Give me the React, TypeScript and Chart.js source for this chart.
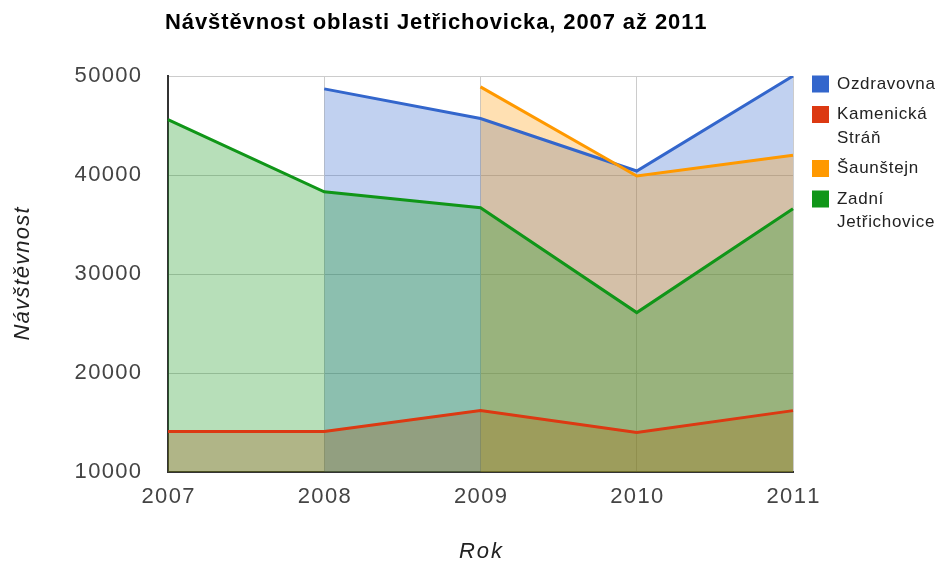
import React, { useEffect, useRef } from 'react';
import { Chart, registerables } from 'chart.js';

Chart.register(...registerables);

const years = ['2007', '2008', '2009', '2010', '2011'];
const ozdravovna = [null, 48700, 45700, 40400, 50000];
const kamenickaStran = [14100, 14100, 16200, 14000, 16200];
const saunstejn = [null, null, 48900, 39900, 42000];
const zadniJetrichovice = [45600, 38300, 36700, 26100, 36600];
const seriesNames = ['Ozdravovna', 'Kamenická Stráň', 'Šaunštejn', 'Zadní Jetřichovice'];
const legendLines = [['Ozdravovna'], ['Kamenická', 'Stráň'], ['Šaunštejn'], ['Zadní', 'Jetřichovice']];
const seriesColors = ['#3366cc', '#dc3912', '#ff9900', '#109618'];
const seriesFills = ['rgba(51,102,204,0.3)', 'rgba(220,57,18,0.3)', 'rgba(255,153,0,0.3)', 'rgba(16,150,24,0.3)'];
const yTicks = [10000, 20000, 30000, 40000, 50000];
const chartTitle = 'Návštěvnost oblasti Jetřichovicka, 2007 až 2011';
const xTitle = 'Rok';
const yTitle = 'Návštěvnost';

const FONT = '"Liberation Sans", Arial, sans-serif';

function drawSpaced(ctx: CanvasRenderingContext2D, text: string, x: number, y: number, align: string, spacing: number) {
  const chars = Array.from(text);
  const widths = chars.map((c) => ctx.measureText(c).width);
  const total = widths.reduce((a, b) => a + b, 0) + spacing * (chars.length - 1);
  let start = align === 'center' ? x - total / 2 : align === 'right' ? x - total : x;
  ctx.textAlign = 'left';
  chars.forEach((c, i) => {
    ctx.fillText(c, start, y);
    start += widths[i] + spacing;
  });
}

const textPlugin = {
  id: 'textPlugin',
  afterDraw(chart: any) {
    const ctx: CanvasRenderingContext2D = chart.ctx;
    const area = chart.chartArea;
    const xs = chart.scales.x;
    const ys = chart.scales.y;
    ctx.save();

    // title
    ctx.fillStyle = '#000';
    ctx.font = `bold 22px ${FONT}`;
    ctx.textBaseline = 'alphabetic';
    drawSpaced(ctx, chartTitle, area.left - 3, 29, 'left', 0.9);

    // y ticks
    ctx.fillStyle = '#444';
    ctx.font = `22px ${FONT}`;
    ctx.textBaseline = 'middle';
    yTicks.forEach((v) => {
      drawSpaced(ctx, String(v), area.left - 27, ys.getPixelForValue(v), 'right', 1.3);
    });

    // x ticks
    years.forEach((label, i) => {
      drawSpaced(ctx, label, xs.getPixelForValue(i), area.bottom + 25, 'center', 1.3);
    });

    // axis titles
    ctx.fillStyle = '#222';
    ctx.font = `italic 22px ${FONT}`;
    drawSpaced(ctx, xTitle, (area.left + area.right) / 2, 552, 'center', 2);
    ctx.save();
    ctx.translate(23, (area.top + area.bottom) / 2);
    ctx.rotate(-Math.PI / 2);
    drawSpaced(ctx, yTitle, 0, 0, 'center', 1.2);
    ctx.restore();

    // legend
    ctx.font = `17px ${FONT}`;
    let yy = area.top + 8;
    legendLines.forEach((lines, i) => {
      ctx.fillStyle = seriesColors[i];
      ctx.fillRect(812, yy - 8.5, 17, 17);
      ctx.fillStyle = '#222';
      lines.forEach((ln, j) => {
        drawSpaced(ctx, ln, 837, yy + j * 23.5, 'left', 0.7);
      });
      yy += (lines.length - 1) * 23.5 + 30.5;
    });

    ctx.restore();
  },
};

export default function App() {
  const ref = useRef<HTMLCanvasElement | null>(null);
  useEffect(() => {
    document.body.style.margin = '0';
    const canvas = ref.current;
    if (!canvas) return;
    const seriesData = [ozdravovna, kamenickaStran, saunstejn, zadniJetrichovice];
    const chart = new Chart(canvas, {
      type: 'line',
      data: {
        labels: years,
        datasets: seriesData.map((d, i) => ({
          label: seriesNames[i],
          data: d,
          borderColor: seriesColors[i],
          backgroundColor: seriesFills[i],
          borderWidth: 3,
          pointRadius: 0,
          pointHoverRadius: 0,
          fill: 'start',
          tension: 0,
          spanGaps: false,
          order: 3 - i,
        })),
      },
      options: {
        animation: false,
        responsive: false,
        devicePixelRatio: 1,
        layout: { padding: { top: 76, right: 148, left: 0, bottom: 0 } },
        plugins: {
          legend: { display: false },
          title: { display: false },
          tooltip: { enabled: false },
          filler: { drawTime: 'beforeDatasetsDraw' },
        },
        scales: {
          x: {
            type: 'category',
            offset: false,
            grid: { color: '#cccccc', lineWidth: 1, drawTicks: false },
            border: { color: '#333333', width: 2 },
            ticks: { display: false },
            afterFit: (s: any) => {
              s.height = 90;
            },
          },
          y: {
            min: 10000,
            max: 50000,
            ticks: { display: false, stepSize: 10000 },
            grid: { color: '#cccccc', lineWidth: 1, drawTicks: false },
            border: { color: '#333333', width: 2 },
            afterFit: (s: any) => {
              s.width = 168;
            },
          },
        },
      } as any,
      plugins: [textPlugin],
    });
    return () => chart.destroy();
  }, []);
  return (
    <div style={{ position: 'absolute', left: 0, top: 0, width: 941, height: 562 }}>
      <canvas ref={ref} width={941} height={562} style={{ width: 941, height: 562, display: 'block' }} />
    </div>
  );
}
